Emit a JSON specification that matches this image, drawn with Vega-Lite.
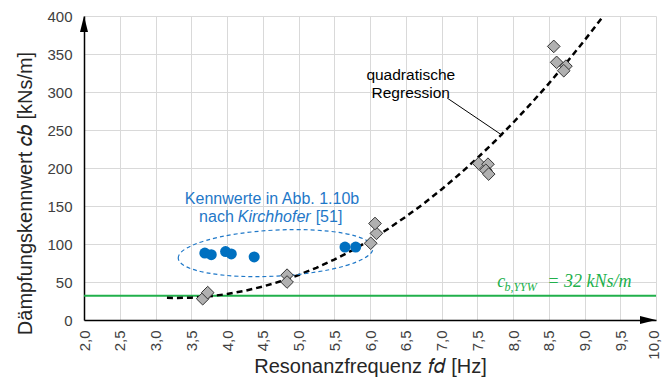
{
"$schema": "https://vega.github.io/schema/vega-lite/v6.json",
"width": 572, "height": 304,
"autosize": "none",
"padding": {"left": 84, "top": 16, "right": 6, "bottom": 61},
"background": "white",
"config": {"view": {"stroke": null}, "font": "Liberation Sans"},
"datasets": {
"diamonds": [
{"x":3.66,"y":28},{"x":3.73,"y":36},{"x":4.84,"y":59},{"x":4.84,"y":50},{"x":6.01,"y":101},{"x":6.09,"y":114},{"x":6.07,"y":127},
{"x":7.52,"y":206},{"x":7.65,"y":205},{"x":7.62,"y":197},{"x":7.66,"y":192},{"x":8.57,"y":360},{"x":8.61,"y":339},{"x":8.74,"y":334},{"x":8.71,"y":328}],
"circles": [
{"x":3.69,"y":88},{"x":3.78,"y":86},{"x":3.98,"y":90},{"x":4.06,"y":87},{"x":4.38,"y":83},{"x":5.65,"y":96},{"x":5.8,"y":96}],
"curve": [
{"x":3.16,"y":29.2},{"x":3.3,"y":29},{"x":3.5,"y":29.4},{"x":3.75,"y":31.1},{"x":4.0,"y":34.1},{"x":4.25,"y":38.4},{"x":4.5,"y":44.0},{"x":4.75,"y":50.9},{"x":5.0,"y":59.1},{"x":5.25,"y":68.7},{"x":5.5,"y":79.5},{"x":5.75,"y":91.6},{"x":6.0,"y":105.0},{"x":6.25,"y":119.8},{"x":6.5,"y":135.8},{"x":6.75,"y":153.1},{"x":7.0,"y":171.8},{"x":7.25,"y":191.7},{"x":7.5,"y":213.0},{"x":7.75,"y":235.5},{"x":8.0,"y":259.4},{"x":8.25,"y":284.6},{"x":8.5,"y":311.0},{"x":8.75,"y":338.8},{"x":9.0,"y":367.9},{"x":9.24,"y":397.0}]
},
"encoding": {
"x": {"field": "x", "type": "quantitative",
 "scale": {"domain": [2, 10], "nice": false, "zero": false},
 "axis": {"title": "Resonanzfrequenz 𝑓𝑑 [Hz]", "values": [2,2.5,3,3.5,4,4.5,5,5.5,6,6.5,7,7.5,8,8.5,9,9.5,10],
  "labelExpr": "replace(format(datum.value,'.1f'),'.',',')", "labelAngle": -90, "labelAlign": "right", "labelBaseline": "middle",
  "labelOffset": {"condition": {"test": "datum.value == 10", "value": -3}, "value": 0},
  "ticks": false, "domainColor": "black", "domainWidth": 1.5, "gridColor": "#d9d9d9", "gridWidth": 1,
  "labelFontSize": 15, "labelColor": "#404040", "labelPadding": 10,
  "titleFontSize": 20, "titleFontWeight": "normal", "titleColor": "#262626", "titleY": 52, "titleBaseline": "alphabetic"}},
"y": {"field": "y", "type": "quantitative",
 "scale": {"domain": [0, 400], "nice": false},
 "axis": {"title": "Dämpfungskennwert 𝑐𝑏 [kNs/m]", "values": [0,50,100,150,200,250,300,350,400],
  "ticks": false, "domainColor": "black", "domainWidth": 1.5, "gridColor": "#d9d9d9", "gridWidth": 1,
  "labelFontSize": 15, "labelColor": "#404040", "labelPadding": 12,
  "titleFontSize": 20, "titleFontWeight": "normal", "titleColor": "#262626", "titleX": -59, "titleY": 177, "titleBaseline": "middle", "titleAlign": "center", "titleAngle": -90}}
},
"layer": [
{"data": {"values": [{"x": 2, "x2": 10, "y": 32}]}, "mark": {"type": "rule", "color": "#21b04b", "strokeWidth": 2}, "encoding": {"x2": {"field": "x2"}}},
{"data": {"name": "curve"}, "mark": {"type": "line", "color": "black", "strokeWidth": 2.5, "strokeDash": [6, 4]}},
{"data": {"values": [{"x": 4.68, "y": 88}]}, "mark": {"type": "point", "shape": "M -1 0 A 1 0.236 0 1 1 1 0 A 1 0.236 0 1 1 -1 0 Z", "size": 38025, "filled": false, "stroke": "#1f78c8", "strokeWidth": 1.2, "strokeDash": [4, 3], "angle": -3, "opacity": 1}},
{"data": {"name": "circles"}, "mark": {"type": "point", "shape": "circle", "filled": true, "size": 121, "color": "#0070c0", "opacity": 1}},
{"data": {"name": "diamonds"}, "mark": {"type": "point", "shape": "diamond", "filled": true, "size": 160, "fill": "#b0b0b0", "stroke": "#333333", "strokeWidth": 1, "opacity": 1}},
{"data": {"values": [{"x": 7.08, "y": 292, "x2": 7.85, "y2": 243}]}, "mark": {"type": "rule", "color": "black", "strokeWidth": 1}, "encoding": {"x2": {"field": "x2"}, "y2": {"field": "y2"}}},
{"data": {"values": [{"x": 6.57, "y": 322, "label": "quadratische"}, {"x": 6.57, "y": 299, "label": "Regression"}]}, "mark": {"type": "text", "fontSize": 15.5, "color": "black", "align": "center", "baseline": "middle"}, "encoding": {"text": {"field": "label"}}},
{"data": {"values": [{"x": 4.63, "y": 159, "label": "Kennwerte in Abb. 1.10b"}]}, "mark": {"type": "text", "fontSize": 16, "color": "#1f78c8", "align": "center", "baseline": "middle"}, "encoding": {"text": {"field": "label"}}},
{"data": {"values": [{"x": 3.61, "y": 135.5, "label": "nach "}, {"x": 5.24, "y": 135.5, "label": "[51]"}]}, "mark": {"type": "text", "fontSize": 16, "color": "#1f78c8", "align": "left", "baseline": "middle"}, "encoding": {"text": {"field": "label"}}},
{"data": {"values": [{"x": 4.15, "y": 135.5, "label": "Kirchhofer"}]}, "mark": {"type": "text", "fontSize": 16, "fontStyle": "italic", "color": "#1f78c8", "align": "left", "baseline": "middle"}, "encoding": {"text": {"field": "label"}}},
{"data": {"values": [{"x": 7.78, "y": 43, "label": "c"}]}, "mark": {"type": "text", "fontSize": 18, "fontStyle": "italic", "font": "Liberation Serif", "color": "#21b04b", "align": "left", "baseline": "alphabetic"}, "encoding": {"text": {"field": "label"}}},
{"data": {"values": [{"x": 7.88, "y": 43, "label": "b,YYW"}]}, "mark": {"type": "text", "fontSize": 12, "fontStyle": "italic", "font": "Liberation Serif", "color": "#21b04b", "align": "left", "baseline": "alphabetic", "dy": 4}, "encoding": {"text": {"field": "label"}}},
{"data": {"values": [{"x": 8.48, "y": 43, "label": "= 32 kNs/m"}]}, "mark": {"type": "text", "fontSize": 18, "fontStyle": "italic", "font": "Liberation Serif", "color": "#21b04b", "align": "left", "baseline": "alphabetic"}, "encoding": {"text": {"field": "label"}}},
{"data": {"values": [{"x": 2, "y": 389.5}]}, "mark": {"type": "point", "shape": "M 0 -1 L 0.5 1 L -0.5 1 Z", "size": 256, "filled": true, "color": "black", "opacity": 1}},
{"data": {"values": [{"x": 9.888, "y": 0}]}, "mark": {"type": "point", "shape": "M 1 0 L -1 0.5 L -1 -0.5 Z", "size": 256, "filled": true, "color": "black", "opacity": 1, "clip": false}}
]
}
